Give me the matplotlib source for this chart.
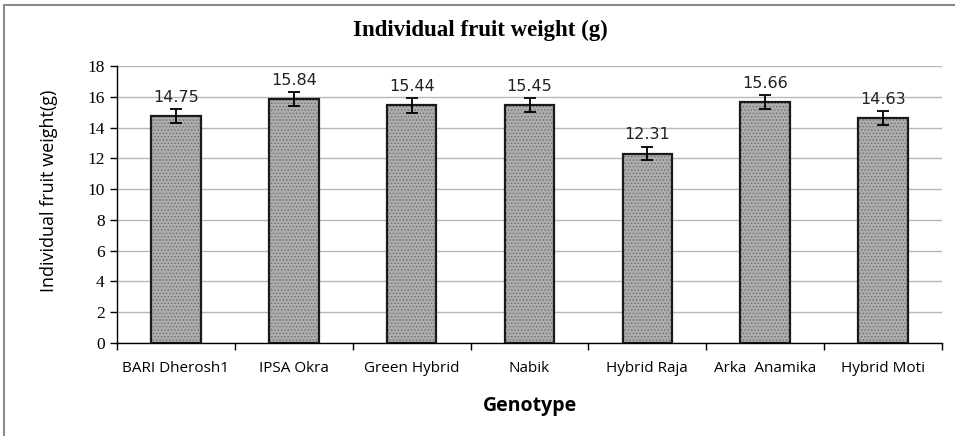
import matplotlib
matplotlib.use("Agg")
import matplotlib.pyplot as plt
from matplotlib.patches import Rectangle
import numpy as np

categories = ["BARI Dherosh1", "IPSA Okra", "Green Hybrid", "Nabik",
              "Hybrid Raja", "Arka  Anamika", "Hybrid Moti"]
values = [14.75, 15.84, 15.44, 15.45, 12.31, 15.66, 14.63]
errors = [0.45, 0.45, 0.48, 0.45, 0.45, 0.45, 0.45]
labels = ["14.75", "15.84", "15.44", "15.45", "12.31", "15.66", "14.63"]
yticks = [0, 2, 4, 6, 8, 10, 12, 14, 16, 18]

fig = plt.figure(figsize=(9.55, 4.36), dpi=100)
ax = fig.add_axes([117/955, 1-343/436, (942-117)/955, (343-66)/436])

x = np.arange(len(categories))
plt.rcParams['hatch.linewidth'] = 0.6
ax.bar(x, values, width=0.42, color='#adadad', edgecolor='#6e6e6e',
       hatch='.....', linewidth=0, zorder=2)
ax.bar(x, values, width=0.42, fill=False, edgecolor='#1a1a1a',
       linewidth=1.6, zorder=3)
ax.errorbar(x, values, yerr=errors, fmt='none', ecolor='black',
            elinewidth=1.3, capsize=4, capthick=1.3, zorder=4)
for xi, v, lab in zip(x, values, labels):
    ax.annotate(lab, (xi, v), xytext=(0, 8), textcoords='offset points',
                ha='center', va='bottom', fontsize=11.5,
                family='DejaVu Sans', color='#222222')

ax.set_xlim(-0.5, len(categories) - 0.5)
ax.set_ylim(0, 18)
ax.set_yticks(yticks)
ax.set_yticklabels([str(t) for t in yticks], family='Liberation Serif', fontsize=12.5)
ax.yaxis.grid(True, color='#b8b8b8', linewidth=1.0, zorder=0)
ax.set_axisbelow(True)

ax.set_xticks(x)
ax.set_xticklabels(categories, family='Open Sans', fontsize=11)
ax.set_xticks(np.arange(len(categories) + 1) - 0.5, minor=True)
ax.tick_params(axis='x', which='major', length=0, pad=13)
ax.tick_params(axis='x', which='minor', length=5, width=1, direction='out')
ax.tick_params(axis='y', length=5, width=1, direction='out', pad=4)

for s in ['top', 'right']:
    ax.spines[s].set_visible(False)
for s in ['left', 'bottom']:
    ax.spines[s].set_color('black')
    ax.spines[s].set_linewidth(1.0)

ax.set_ylabel("Individual fruit weight(g)", family='Open Sans', fontsize=13)
ax.yaxis.set_label_coords(-0.072, 0.55)
ax.set_xlabel("Genotype", family='Open Sans', fontsize=14, fontweight='bold', labelpad=14)

fig.text(480/955, 1-30/436, "Individual fruit weight (g)", ha='center', va='center',
         family='Liberation Serif', fontweight='bold', fontsize=16.5)

fig.patches.append(Rectangle((4/955, -0.1), 1.2, 1.1 - 5/436,
                             transform=fig.transFigure, fill=False,
                             edgecolor='#8a8a8a', linewidth=1.5))

fig.savefig("out.png", dpi=100)
